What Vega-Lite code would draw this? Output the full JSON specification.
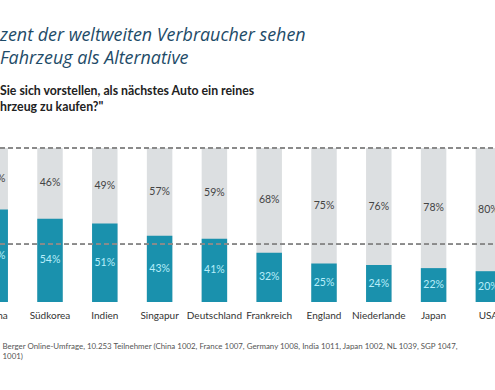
{
  "$schema": "https://vega.github.io/schema/vega-lite/v6.json",
  "autosize": "none",
  "width": 495,
  "height": 154,
  "padding": {"left": 0, "top": 148, "right": 0, "bottom": 88},
  "background": "white",
  "config": {"view": {"stroke": null}, "font": "Lato"},
  "title": {
    "text": ["zent der weltweiten Verbraucher sehen", "Fahrzeug als Alternative"],
    "subtitle": ["Sie sich vorstellen, als nächstes Auto ein reines", "hrzeug zu kaufen?\""],
    "anchor": "start",
    "frame": "group",
    "orient": "top",
    "offset": 34,
    "font": "Open Sans",
    "fontStyle": "italic",
    "fontWeight": "normal",
    "fontSize": 17.9,
    "lineHeight": 23.5,
    "color": "#1e4b68",
    "subtitleFont": "Lato",
    "subtitleFontWeight": "bold",
    "subtitleFontSize": 12.3,
    "subtitleLineHeight": 16,
    "subtitleColor": "#222222",
    "subtitlePadding": 17
  },
  "data": {
    "values": [
      {"land": "China", "ja": 60, "nein": 40},
      {"land": "Südkorea", "ja": 54, "nein": 46},
      {"land": "Indien", "ja": 51, "nein": 49},
      {"land": "Singapur", "ja": 43, "nein": 57},
      {"land": "Deutschland", "ja": 41, "nein": 59},
      {"land": "Frankreich", "ja": 32, "nein": 68},
      {"land": "England", "ja": 25, "nein": 75},
      {"land": "Niederlande", "ja": 24, "nein": 76},
      {"land": "Japan", "ja": 22, "nein": 78},
      {"land": "USA", "ja": 20, "nein": 80}
    ]
  },
  "transform": [
    {"calculate": "datum.ja / 2", "as": "ja_mid"},
    {"calculate": "datum.ja + datum.nein / 2", "as": "nein_mid"},
    {"calculate": "datum.nein + '%'", "as": "nein_label"},
    {"calculate": "datum.ja + '%'", "as": "ja_label"}
  ],
  "encoding": {
    "x": {
      "field": "land",
      "type": "nominal",
      "sort": null,
      "scale": {"range": [-32.2, 515.8], "paddingInner": 0.535, "paddingOuter": 0.2675},
      "axis": {
        "title": ["Berger Online-Umfrage, 10.253 Teilnehmer (China 1002, France 1007, Germany 1008, India 1011, Japan 1002, NL 1039, SGP 1047,", "1001)"],
        "titleX": 2,
        "titleY": 46,
        "titleAnchor": "start",
        "titleAlign": "left",
        "titleBaseline": "alphabetic",
        "titleFont": "Lato",
        "titleFontSize": 7.9,
        "titleFontWeight": "normal",
        "titleColor": "#555555",
        "titleLineHeight": 10,
        "labelAngle": 0,
        "labelFontSize": 10,
        "labelColor": "#333333",
        "labelPadding": 8,
        "labelOverlap": false,
        "labelFlush": false,
        "domain": false,
        "ticks": false
      }
    }
  },
  "layer": [
    {
      "mark": {"type": "bar", "color": "#dcdfe1"},
      "encoding": {
        "y": {"datum": 100, "type": "quantitative", "scale": {"domain": [0, 100]}, "axis": null},
        "y2": {"datum": 0}
      }
    },
    {
      "mark": {"type": "bar", "color": "#1a91ad"},
      "encoding": {
        "y": {"field": "ja", "type": "quantitative", "scale": {"domain": [0, 100]}, "axis": null}
      }
    },
    {
      "mark": {"type": "rule", "color": "#8a8a8a", "strokeDash": [5, 3], "strokeWidth": 1.2},
      "encoding": {"y": {"datum": 100, "type": "quantitative"}, "x": {"value": 0}, "x2": {"value": 495}}
    },
    {
      "mark": {"type": "rule", "color": "#8a8a8a", "strokeDash": [5, 3], "strokeWidth": 1.2},
      "encoding": {"y": {"datum": 37.5, "type": "quantitative"}, "x": {"value": 0}, "x2": {"value": 495}}
    },
    {
      "mark": {"type": "text", "fontSize": 10.5, "color": "#444444"},
      "encoding": {
        "y": {"field": "nein_mid", "type": "quantitative"},
        "text": {"field": "nein_label"}
      }
    },
    {
      "mark": {"type": "text", "fontSize": 10.5, "color": "#b8eefa"},
      "encoding": {
        "y": {"field": "ja_mid", "type": "quantitative"},
        "text": {"field": "ja_label"}
      }
    }
  ]
}
